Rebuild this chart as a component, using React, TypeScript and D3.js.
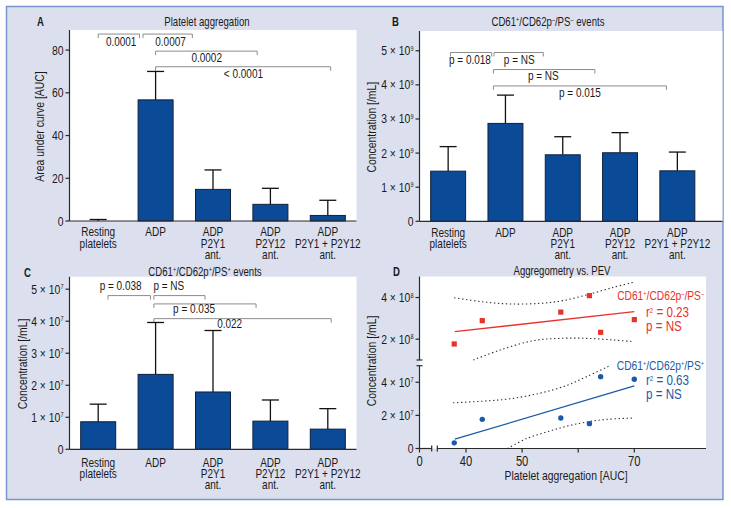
import React from "react";
import * as d3 from "d3";

// ---------------- DATA ----------------
const categories: string[][] = [
  ["Resting", "platelets"],
  ["ADP"],
  ["ADP", "P2Y1", "ant."],
  ["ADP", "P2Y12", "ant."],
  ["ADP", "P2Y1 + P2Y12", "ant."],
];

// Panel A: platelet aggregation (AUC), mean and upper error-bar end
const aggMean = [0, 56.7, 14.8, 7.8, 2.6];
const aggUpper = [0.7, 70.0, 23.9, 15.3, 9.7];
const aggTicks = [0, 20, 40, 60, 80];

// Panel B: CD61+/CD62p-/PS- events (/mL)
const negMean = [1.47e9, 2.87e9, 1.95e9, 2.01e9, 1.48e9];
const negUpper = [2.19e9, 3.7e9, 2.48e9, 2.6e9, 2.03e9];
const negTicks = [0, 1e9, 2e9, 3e9, 4e9, 5e9];

// Panel C: CD61+/CD62p+/PS+ events (/mL)
const posMean = [0.86e7, 2.34e7, 1.79e7, 0.88e7, 0.63e7];
const posUpper = [1.41e7, 3.96e7, 3.71e7, 1.54e7, 1.27e7];
const posTicks = [0, 1e7, 2e7, 3e7, 4e7, 5e7];

type Bracket = { from: number; to: number; level: number; label: string; textAt: number; textLevel: number };

const aggBrackets: Bracket[] = [
  { from: 0, to: 0.72, level: 87.5, label: "0.0001", textAt: 0.4, textLevel: 81.7 },
  { from: 0.78, to: 1.64, level: 87.5, label: "0.0007", textAt: 1.26, textLevel: 81.7 },
  { from: 1.0, to: 2.77, level: 79.5, label: "0.0002", textAt: 1.89, textLevel: 74.5 },
  { from: 1.0, to: 4.05, level: 72.2, label: "< 0.0001", textAt: 2.53, textLevel: 66.8 },
];
const negBrackets: Bracket[] = [
  { from: 0.04, to: 0.76, level: 4.95e9, label: "p = 0.018", textAt: 0.38, textLevel: 4.6e9 },
  { from: 0.8, to: 1.66, level: 4.95e9, label: "p = NS", textAt: 1.24, textLevel: 4.6e9 },
  { from: 0.79, to: 2.56, level: 4.45e9, label: "p = NS", textAt: 1.66, textLevel: 4.14e9 },
  { from: 0.79, to: 3.81, level: 3.97e9, label: "p = 0.015", textAt: 2.3, textLevel: 3.65e9 },
];
const posBrackets: Bracket[] = [
  { from: 0.17, to: 0.91, level: 4.8e7, label: "p = 0.038", textAt: 0.39, textLevel: 4.96e7 },
  { from: 0.97, to: 1.86, level: 4.8e7, label: "p = NS", textAt: 1.23, textLevel: 4.96e7 },
  { from: 0.97, to: 2.75, level: 4.54e7, label: "p = 0.035", textAt: 1.67, textLevel: 4.25e7 },
  { from: 0.97, to: 4.06, level: 4.08e7, label: "0.022", textAt: 2.29, textLevel: 3.78e7 },
];

// Panel D: aggregometry vs PEV
const dAUC = [37.9, 42.9, 56.9, 62.0, 64.0, 70.0];
const dNeg = [1.77e8, 2.89e8, 3.3e8, 4.09e8, 2.33e8, 2.94e8];
const dPos = [0.34e7, 1.76e7, 1.84e7, 1.5e7, 4.34e7, 4.18e7];
const negFitX = [38, 70];
const negFitY = [2.36e8, 3.32e8];
const posFitX = [38, 70];
const posFitY = [0.56e7, 3.78e7];
const negCiUpX = [37.9, 43.1, 47.9, 53.2, 57.3, 62.1, 66.3, 69.8];
const negCiUpY = [3.99e8, 3.79e8, 3.69e8, 3.72e8, 3.85e8, 4.17e8, 4.49e8, 4.73e8];
const negCiLoX = [41.3, 46.1, 52.0, 56.8, 61.5, 66.3, 69.8];
const negCiLoY = [1.0e8, 1.48e8, 1.93e8, 2.04e8, 2.04e8, 1.96e8, 1.88e8];
const posCiUpX = [37.7, 43.1, 47.8, 53.2, 57.9, 61.5, 65.4];
const posCiUpY = [2.76e7, 2.86e7, 3.0e7, 3.34e7, 3.8e7, 4.34e7, 4.96e7];
const posCiLoX = [47.4, 50.8, 54.4, 57.9, 61.5, 65.1, 69.8];
const posCiLoY = [0, 0.6e7, 1.0e7, 1.34e7, 1.6e7, 1.76e7, 1.84e7];
const dXTicks = [40, 50, 60, 70];
const dXTickLabels = ["40", "50", "", "70"];
const dUpperTicks = [2e8, 4e8];
const dLowerTicks = [0, 2e7, 4e7];

// ---------------- STYLE ----------------
const FONT = "'Liberation Sans', Arial, Helvetica, sans-serif";
const SX = 0.8; // horizontal condensing to mimic a narrow face
const BAR = "#0b4a96";
const AXIS = "#2a2a2a";
const BRK = "#8c8c8c";
const RED = "#e8322c";
const BLUE = "#1b5aa6";
const INK = "#1a1a1a";

type Part = string | { sup: string };

function Rich({ parts, supSize = 7, shift = 4.5 }: { parts: Part[]; supSize?: number; shift?: number }) {
  const out: React.ReactNode[] = [];
  let raised = false;
  parts.forEach((p, i) => {
    if (typeof p === "string") {
      out.push(
        <tspan key={i} dy={raised ? shift : 0}>
          {p}
        </tspan>
      );
      raised = false;
    } else {
      out.push(
        <tspan key={i} dy={raised ? 0 : -shift} fontSize={supSize}>
          {p.sup}
        </tspan>
      );
      raised = true;
    }
  });
  return <>{out}</>;
}

function T({
  x,
  y,
  anchor = "start",
  size = 12,
  fill = INK,
  rotate = 0,
  weight,
  children,
}: {
  x: number;
  y: number;
  anchor?: string;
  size?: number;
  fill?: string;
  rotate?: number;
  weight?: string;
  children?: React.ReactNode;
}) {
  return (
    <text
      transform={`translate(${x},${y})${rotate ? ` rotate(${rotate})` : ""} scale(${SX},1)`}
      textAnchor={anchor}
      fontSize={size}
      fill={fill}
      fontWeight={weight}
    >
      {children}
    </text>
  );
}

function sci(v: number, exp: number): Part[] {
  if (v === 0) return ["0"];
  const m = Math.round(v / Math.pow(10, exp));
  return [`${m} × 10`, { sup: String(exp) }];
}

type BarPanelProps = {
  left: number;
  bandEnd: number;
  axisEnd: number;
  top: number;
  bottom: number;
  yMax: number;
  means: number[];
  uppers: number[];
  ticks: number[];
  tickLabel: (v: number) => Part[];
  brackets: Bracket[];
  catOffset: number;
  ylabel: string;
  ylabelX: number;
};

function BarPanel(p: BarPanelProps) {
  const x = d3
    .scaleBand<number>()
    .domain(d3.range(categories.length))
    .range([p.left, p.bandEnd])
    .paddingInner(0.39)
    .paddingOuter(0.195);
  const y = d3.scaleLinear().domain([0, p.yMax]).range([p.bottom, p.top]);
  const bw = x.bandwidth();
  const c0 = (x(0) as number) + bw / 2;
  const ix = (i: number) => c0 + i * x.step();
  const cap = 8.5;
  return (
    <g>
      <rect x={p.left} y={p.top} width={p.axisEnd - p.left} height={p.bottom - p.top} fill="#fff" />
      {p.brackets.map((b, i) => {
        const yl = y(b.level);
        return (
          <g key={i}>
            <path
              d={`M${ix(b.from)},${yl + 4}V${yl}H${ix(b.to)}V${yl + 4}`}
              fill="none"
              stroke={BRK}
              strokeWidth={1}
            />
            <T x={ix(b.textAt)} y={y(b.textLevel)} anchor="middle" size={12.5}>
              {b.label}
            </T>
          </g>
        );
      })}
      {p.means.map((m, i) => (
        <g key={"e" + i} stroke="#111" strokeWidth={1.3}>
          <line x1={ix(i)} x2={ix(i)} y1={y(m)} y2={y(p.uppers[i])} />
          <line x1={ix(i) - cap} x2={ix(i) + cap} y1={y(p.uppers[i])} y2={y(p.uppers[i])} />
        </g>
      ))}
      {p.means.map((m, i) => (
        <rect
          key={"b" + i}
          x={x(i)}
          y={y(m)}
          width={bw}
          height={Math.max(0, y(0) - y(m))}
          fill={BAR}
          stroke="#10213a"
          strokeWidth={1}
        />
      ))}
      <line x1={p.left} x2={p.left} y1={p.top} y2={p.bottom} stroke={AXIS} strokeWidth={1.2} />
      <line x1={p.left} x2={p.axisEnd} y1={p.bottom} y2={p.bottom} stroke={AXIS} strokeWidth={1.2} />
      {p.ticks.map((t) => (
        <g key={"t" + t}>
          <line x1={p.left - 4} x2={p.left} y1={y(t)} y2={y(t)} stroke={AXIS} strokeWidth={1.2} />
          <T x={p.left - 6} y={y(t) + 4.5} anchor="end" size={13}>
            <Rich parts={p.tickLabel(t)} supSize={7} shift={4.5} />
          </T>
        </g>
      ))}
      {categories.map((lines, i) =>
        lines.map((l, j) => (
          <T key={"c" + i + "_" + j} x={ix(i)} y={p.bottom + p.catOffset + j * 11.4} anchor="middle" size={12.5}>
            {l}
          </T>
        ))
      )}
      <T x={p.ylabelX} y={(p.top + p.bottom) / 2 + 1} rotate={-90} anchor="middle" size={13}>
        {p.ylabel}
      </T>
    </g>
  );
}

function PanelD() {
  const left = 419.5;
  const right = 706;
  const top = 276.5;
  const bottom = 448.5;
  const x = d3.scaleLinear().domain([40, 70]).range([466, 634.3]);
  const yU = d3.scaleLinear().domain([1e8, 5e8]).range([360, 276.7]);
  const yL = d3.scaleLinear().domain([0, 5e7]).range([bottom, 365.7]);
  const mk = (xs: number[], ys: number[], ys2: (v: number) => number, curve = true) =>
    d3
      .line<number>()
      .x((v) => x(v))
      .y((_, i) => ys2(ys[i]))
      .curve(curve ? d3.curveCatmullRom : d3.curveLinear)(xs) as string;
  return (
    <g>
      <rect x={left} y={top} width={right - left} height={bottom - top} fill="#fff" />
      <g fill="none" stroke="#333" strokeWidth={1.1} strokeDasharray="1.4 2.6">
        <path d={mk(negCiUpX, negCiUpY, yU)} />
        <path d={mk(negCiLoX, negCiLoY, yU)} />
        <path d={mk(posCiUpX, posCiUpY, yL)} />
        <path d={mk(posCiLoX, posCiLoY, yL)} />
      </g>
      <path d={mk(negFitX, negFitY, yU, false)} stroke={RED} strokeWidth={1.3} fill="none" />
      <path d={mk(posFitX, posFitY, yL, false)} stroke={BLUE} strokeWidth={1.3} fill="none" />
      {dAUC.map((a, i) => (
        <rect key={"r" + i} x={x(a) - 2.6} y={yU(dNeg[i]) - 2.6} width={5.2} height={5.2} fill={RED} />
      ))}
      {dAUC.map((a, i) => (
        <circle key={"c" + i} cx={x(a)} cy={yL(dPos[i])} r={2.7} fill={BLUE} />
      ))}
      <g stroke={AXIS} strokeWidth={1.2}>
        <line x1={left} x2={left} y1={top} y2={360} />
        <line x1={left} x2={left} y1={365.7} y2={bottom} />
        <line x1={left - 3} x2={left + 3} y1={360} y2={360} />
        <line x1={left - 3} x2={left + 3} y1={365.7} y2={365.7} />
        <line x1={left} x2={431.7} y1={bottom} y2={bottom} />
        <line x1={437.3} x2={right} y1={bottom} y2={bottom} />
        <line x1={431.7} x2={431.7} y1={bottom - 3} y2={bottom + 3} />
        <line x1={437.3} x2={437.3} y1={bottom - 3} y2={bottom + 3} />
        <line x1={left} x2={left} y1={bottom} y2={bottom + 4} />
        {dXTicks.map((t) => (
          <line key={t} x1={x(t)} x2={x(t)} y1={bottom} y2={bottom + 4} />
        ))}
        {dUpperTicks.map((t) => (
          <line key={t} x1={left - 4} x2={left} y1={yU(t)} y2={yU(t)} />
        ))}
        {dLowerTicks.map((t) => (
          <line key={t} x1={left - 4} x2={left} y1={yL(t)} y2={yL(t)} />
        ))}
      </g>
      {dUpperTicks.map((t) => (
        <T key={"u" + t} x={left - 6} y={yU(t) + 4.5} anchor="end" size={13}>
          <Rich parts={sci(t, 8)} supSize={7} shift={4.5} />
        </T>
      ))}
      {dLowerTicks.map((t) => (
        <T key={"l" + t} x={left - 6} y={yL(t) + 4.5} anchor="end" size={13}>
          <Rich parts={sci(t, 7)} supSize={7} shift={4.5} />
        </T>
      ))}
      <T x={left} y={466} anchor="middle" size={14}>
        0
      </T>
      {dXTicks.map((t, i) => (
        <T key={"x" + t} x={x(t)} y={466} anchor="middle" size={14}>
          {dXTickLabels[i]}
        </T>
      ))}
      <T x={566} y={480} anchor="middle" size={13}>
        Platelet aggregation [AUC]
      </T>
      <T x={376} y={361} rotate={-90} anchor="middle" size={13}>
        Concentration [/mL]
      </T>
      <T x={704} y={300} anchor="end" size={12.8} fill={RED}>
        <Rich parts={["CD61", { sup: "+" }, "/CD62p", { sup: "–" }, "/PS", { sup: "–" }]} supSize={7} />
      </T>
      <T x={646} y={317} size={14.5} fill={RED}>
        <Rich parts={["r", { sup: "2" }, " = 0.23"]} supSize={7.5} />
      </T>
      <T x={646} y={331} size={14.5} fill={RED}>
        p = NS
      </T>
      <T x={704} y={370} anchor="end" size={12.8} fill={BLUE}>
        <Rich parts={["CD61", { sup: "+" }, "/CD62p", { sup: "+" }, "/PS", { sup: "+" }]} supSize={7} />
      </T>
      <T x={646} y={385} size={14.5} fill={BLUE}>
        <Rich parts={["r", { sup: "2" }, " = 0.63"]} supSize={7.5} />
      </T>
      <T x={646} y={399} size={14.5} fill={BLUE}>
        p = NS
      </T>
    </g>
  );
}

export default function App() {
  return (
    <svg
      width={731}
      height={508}
      viewBox="0 0 731 508"
      style={{ position: "absolute", left: 0, top: 0, background: "#fff" }}
      fontFamily={FONT}
    >
      <rect x={6.5} y={6.5} width={716.5} height={493} fill="#dce0ee" stroke="#7895cc" strokeWidth={1.5} />
      <BarPanel
        left={69.5}
        bandEnd={356.5}
        axisEnd={356.5}
        top={30}
        bottom={221}
        yMax={89.4}
        means={aggMean}
        uppers={aggUpper}
        ticks={aggTicks}
        tickLabel={(v) => [String(v)]}
        brackets={aggBrackets}
        catOffset={15.3}
        ylabel="Area under curve [AUC]"
        ylabelX={44}
      />
      <BarPanel
        left={419.5}
        bandEnd={706}
        axisEnd={722.5}
        top={31}
        bottom={221.3}
        yMax={5.58e9}
        means={negMean}
        uppers={negUpper}
        ticks={negTicks}
        tickLabel={(v) => sci(v, 9)}
        brackets={negBrackets}
        catOffset={15.3}
        ylabel="Concentration [/mL]"
        ylabelX={376}
      />
      <BarPanel
        left={69.5}
        bandEnd={356.5}
        axisEnd={356.5}
        top={276.7}
        bottom={449.3}
        yMax={5.39e7}
        means={posMean}
        uppers={posUpper}
        ticks={posTicks}
        tickLabel={(v) => sci(v, 7)}
        brackets={posBrackets}
        catOffset={17.3}
        ylabel="Concentration [/mL]"
        ylabelX={26.5}
      />
      <PanelD />
      <T x={207} y={25.5} anchor="middle" size={12}>
        Platelet aggregation
      </T>
      <T x={548} y={25.5} anchor="middle" size={12}>
        <Rich parts={["CD61", { sup: "+" }, "/CD62p", { sup: "–" }, "/PS", { sup: "–" }, " events"]} supSize={7} shift={4} />
      </T>
      <T x={205} y={275.5} anchor="middle" size={12}>
        <Rich parts={["CD61", { sup: "+" }, "/CD62p", { sup: "+" }, "/PS", { sup: "+" }, " events"]} supSize={7} shift={4} />
      </T>
      <T x={562} y={275} anchor="middle" size={12}>
        Aggregometry vs. PEV
      </T>
      <T x={37} y={26} size={12} weight="bold">
        A
      </T>
      <T x={392} y={26} size={12} weight="bold">
        B
      </T>
      <T x={24} y={276.5} size={12} weight="bold">
        C
      </T>
      <T x={393} y={276} size={12} weight="bold">
        D
      </T>
    </svg>
  );
}
